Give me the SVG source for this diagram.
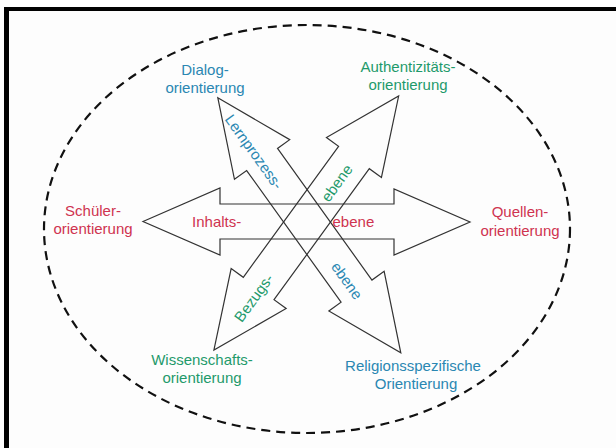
<svg xmlns="http://www.w3.org/2000/svg" width="616" height="448" viewBox="0 0 616 448">
<style>
  text { font-family: "Liberation Sans", Arial, sans-serif; font-size: 15px; text-anchor: middle; }
  .blue { fill: #2a87b2; }
  .green { fill: #1f9a6b; }
  .red { fill: #cf3350; }
  .arrow { fill: none; stroke: #333; stroke-width: 1.2; stroke-linejoin: miter; }
</style>
<defs>
  <path id="diag" d="M-157,0 L-81,-34 L-81,-19 L81,-19 L81,-34 L157,0 L81,34 L81,19 L-81,19 L-81,34 Z"/>
</defs>
<rect x="0" y="0" width="616" height="448" fill="#fdfdfd"/>
<g id="frame">
  <rect x="4" y="7" width="5" height="441" fill="#000"/>
  <rect x="4" y="7" width="612" height="4" fill="#000"/>
</g>
<g id="boundary">
  <ellipse cx="307" cy="229" rx="263" ry="204" fill="none" stroke="#111" stroke-width="2.2" stroke-dasharray="9 6"/>
</g>
<g id="connectors">
  <polygon id="arrow-inhalt" class="arrow" points="143,221.5 220,188 220,204 394,204 394,189 470,222 394,255 394,239 220,239 220,255"/>
  <use id="arrow-lernprozess" href="#diag" class="arrow" transform="translate(309.3,225.3) rotate(54.35)"/>
  <use id="arrow-bezug" href="#diag" class="arrow" transform="translate(306.3,223) rotate(-53.97)"/>
  <text class="red" x="216.7" y="226.7">Inhalts-</text>
  <text class="red" x="353.4" y="226.7">ebene</text>
  <text class="blue" transform="translate(253.7,152) rotate(54.35)" x="0" y="5">Lernprozess-</text>
  <text class="blue" transform="translate(346.7,280.8) rotate(54.35)" x="0" y="5">ebene</text>
  <text class="green" transform="translate(337,183.3) rotate(-54)" x="0" y="5">ebene</text>
  <text class="green" transform="translate(254,298) rotate(-54)" x="0" y="5">Bezugs-</text>
</g>
<g id="dialog">
  <text class="blue" x="205" y="75">Dialog-</text>
  <text class="blue" x="205" y="93">orientierung</text>
</g>
<g id="authentizitaet">
  <text class="green" x="408" y="72">Authentizitäts-</text>
  <text class="green" x="408" y="90">orientierung</text>
</g>
<g id="schueler">
  <text class="red" x="93" y="216">Schüler-</text>
  <text class="red" x="93" y="234">orientierung</text>
</g>
<g id="quellen">
  <text class="red" x="520" y="217">Quellen-</text>
  <text class="red" x="520" y="236">orientierung</text>
</g>
<g id="wissenschaft">
  <text class="green" x="202" y="365">Wissenschafts-</text>
  <text class="green" x="202" y="383">orientierung</text>
</g>
<g id="religion">
  <text class="blue" x="413" y="370.5">Religionsspezifische</text>
  <text class="blue" x="416" y="388.5">Orientierung</text>
</g>
</svg>
